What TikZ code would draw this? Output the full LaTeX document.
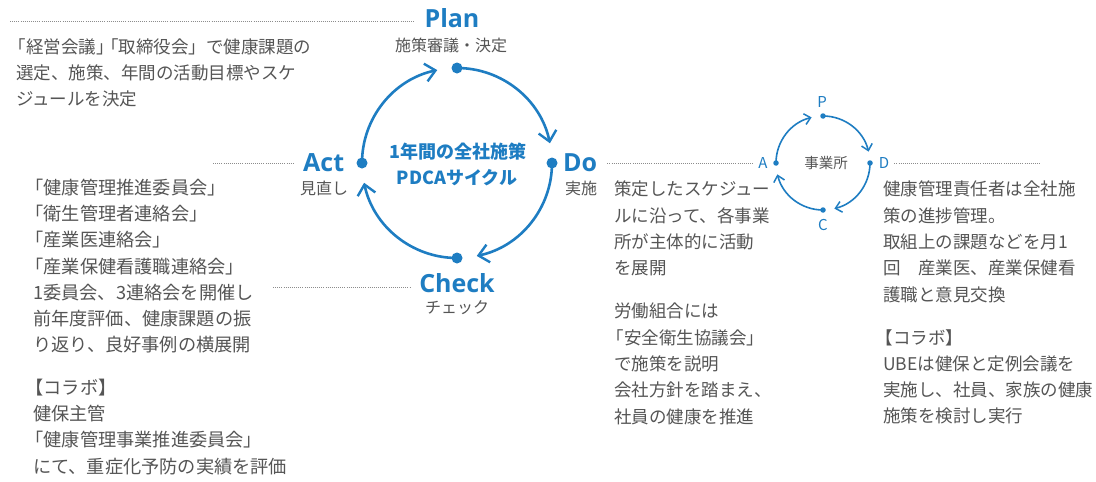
\documentclass[tikz,border=0pt]{standalone}
\usepackage{fontspec}
\setmainfont{Noto Sans CJK JP}
\newfontfamily\titlefont{Open Sans}
\usetikzlibrary{arrows.meta}
\definecolor{pdcablue}{HTML}{1E7DC2}
\definecolor{txtgray}{HTML}{555555}
\definecolor{leadgray}{HTML}{8C8C8C}
\newcommand{\ob}{\hspace*{-0.42em}}
\begin{document}
\begin{tikzpicture}[x=1pt,y=-1pt,
  body/.style={text=txtgray, font=\fontsize{17.5}{26.3}\selectfont, align=left, anchor=north west, inner sep=0pt},
  bodyl/.style={body, font=\fontsize{18.2}{26.3}\selectfont},
  ptitle/.style={text=pdcablue, font=\titlefont\bfseries\fontsize{25}{25}\selectfont, inner sep=0pt},
  psub/.style={text=txtgray, font=\fontsize{16}{16}\selectfont, inner sep=0pt},
  ctext/.style={text=pdcablue, font=\bfseries\fontsize{18}{18}\selectfont, inner sep=0pt},
  small/.style={text=pdcablue, font=\fontsize{15}{15}\selectfont, inner sep=1pt},
  leader/.style={leadgray, line width=0.8pt, dash pattern=on 0.8pt off 1.3pt},
  bigdot/.style={circle, fill=pdcablue, inner sep=0pt, minimum size=11pt},
  smalldot/.style={circle, fill=pdcablue, inner sep=0pt, minimum size=5.5pt},
  bigarc/.style={pdcablue, line width=2.6pt, line cap=round, -{Straight Barb[length=10pt,width=18pt,line width=2.4pt]}},
  smallarc/.style={pdcablue, line width=1.6pt, line cap=round, -{Straight Barb[length=6pt,width=11pt,line width=1.5pt]}}
]
\useasboundingbox (0,0) rectangle (1096,482);
\fill[white] (0,0) rectangle (1096,482);

% ---- big PDCA cycle ----
\coordinate (bc) at (457,163);
\node[bigdot] (pd) at (457,68) {};
\node[bigdot] (dd) at (552,163) {};
\node[bigdot] (cd) at (457,258) {};
\node[bigdot] (ad) at (362,163) {};
\draw[bigarc] (pd.center) arc[start angle=270, end angle=348, radius=95];
\draw[bigarc] (dd.center) arc[start angle=0, end angle=78, radius=95];
\draw[bigarc] (cd.center) arc[start angle=90, end angle=168, radius=95];
\draw[bigarc] (ad.center) arc[start angle=180, end angle=258, radius=95];

\node[ctext] (c1) at (458,152) {1年間の全社施策};
\node[ctext] (c2) at (457,178) {PDCAサイクル};

% ---- titles ----
\node[ptitle] (plan) at (452,18) {Plan};
\node[psub] (plansub) at (451,45) {施策審議・決定};
\node[ptitle, anchor=west] (act) at (303,163) {Act};
\node[psub, anchor=west] (actsub) at (300,188) {見直し};
\node[ptitle, anchor=west] (do) at (563,163) {Do};
\node[psub, anchor=west] (dosub) at (565,188) {実施};
\node[ptitle] (check) at (457,283) {Check};
\node[psub] (checksub) at (457,308) {チェック};

% ---- small cycle ----
\node[smalldot] (sp) at (823,116) {};
\node[smalldot] (sd) at (870,163) {};
\node[smalldot] (sc) at (823,210) {};
\node[smalldot] (sa) at (776,163) {};
\draw[smallarc] (sp.center) arc[start angle=270, end angle=346, radius=47];
\draw[smallarc] (sd.center) arc[start angle=0, end angle=76, radius=47];
\draw[smallarc] (sc.center) arc[start angle=90, end angle=166, radius=47];
\draw[smallarc] (sa.center) arc[start angle=180, end angle=256, radius=47];
\node[small] (lp) at (822,102) {P};
\node[small] (ld) at (884,163) {D};
\node[small] (lc) at (823,225) {C};
\node[small] (la) at (763,163) {A};
\node[text=txtgray, font=\fontsize{14.5}{14.5}\selectfont, inner sep=0pt] (jig) at (826,163) {事業所};

% ---- leader lines ----
\coordinate (lplan) at (10,21);
\coordinate (lact) at (213,163);
\coordinate (lchk) at (273,287);
\coordinate (ldend) at (1040,163);
\draw[leader] (lplan) -- ([xshift=-10pt]lplan -| plan.west);
\draw[leader] (lact) -- ([xshift=-10pt]lact -| act.west);
\draw[leader] (lchk) -- ([xshift=-8pt]lchk -| check.west);
\draw[leader] ([xshift=10pt]do.east) -- ([xshift=-4pt]la.west);
\draw[leader] ([xshift=4pt]ld.east) -- (ldend);

% ---- body texts ----
\node[body] (tl) at (16,38) {\ob「経営会議」\kern-0.72em「取締役会」で健康課題の\\選定、施策、年間の活動目標やスケ\\ジュールを決定};

\node[bodyl] (am) at (33,178.5) {\ob「健康管理推進委員会」\\\ob「衛生管理者連絡会」\\\ob「産業医連絡会」\\\ob「産業保健看護職連絡会」\\1委員会、3連絡会を開催し\\前年度評価、健康課題の振\\り返り、良好事例の横展開};
\node[bodyl] (ac) at (33,378.5) {\ob【コラボ】\\健保主管\\\ob「健康管理事業推進委員会」\\にて、重症化予防の実績を評価};

\node[body] (d1) at (614,181) {策定したスケジュー\\ルに沿って、各事業\\所が主体的に活動\\を展開};
\node[body] (d2) at (614,303) {労働組合には\\\ob「安全衛生協議会」\\で施策を説明\\会社方針を踏まえ、\\社員の健康を推進};

\node[body] (r1) at (883,181) {健康管理責任者は全社施\\策の進捗管理。\\取組上の課題などを月1\\回　産業医、産業保健看\\護職と意見交換};
\node[body] (r2) at (883,329) {\ob【コラボ】\\UBEは健保と定例会議を\\実施し、社員、家族の健康\\施策を検討し実行};
\end{tikzpicture}
\end{document}
